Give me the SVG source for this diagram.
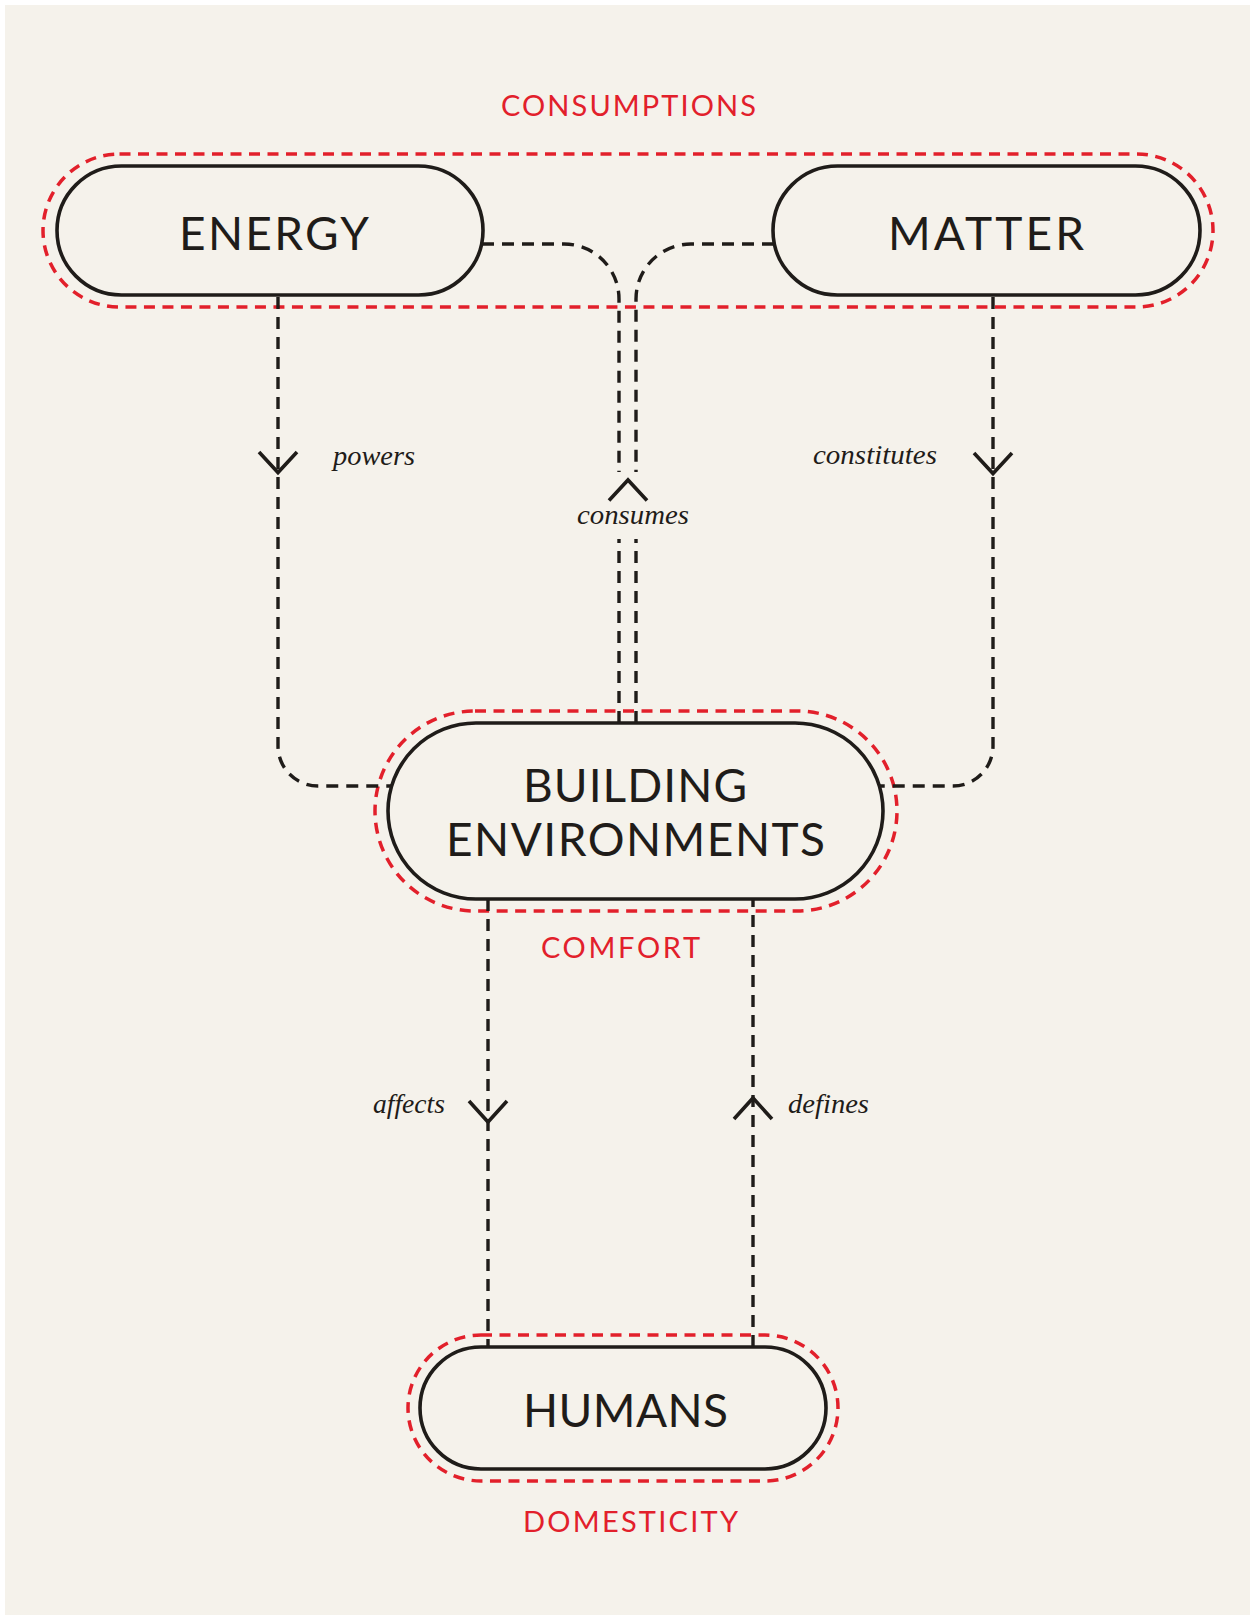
<svg xmlns="http://www.w3.org/2000/svg" width="1250" height="1615" viewBox="0 0 1250 1615">
  <defs>
    <style>
      .pill { fill: #f5f2eb; stroke: #1f1c19; stroke-width: 3.6; }
      .group { fill: none; stroke: #e2202b; stroke-width: 3.5; stroke-dasharray: 11 7.5; }
      .link { fill: none; stroke: #1f1c19; stroke-width: 3.4; stroke-dasharray: 12 8; }
      .chev { fill: none; stroke: #1f1c19; stroke-width: 3.6; stroke-linejoin: miter; stroke-linecap: butt; }
      .name { font-family: Lato, "Open Sans", sans-serif; font-size: 46px; fill: #1f1c19; }
      .set { font-family: Lato, "Open Sans", sans-serif; font-size: 29px; fill: #e2202b; }
      .verb { font-family: "Liberation Serif", serif; font-style: italic; font-size: 28px; fill: #1f1c19; }
    </style>
  </defs>

  <!-- paper -->
  <rect x="0" y="0" width="1250" height="1615" fill="#ffffff"/>
  <rect x="5" y="5" width="1245" height="1610" fill="#f5f2eb"/>

  <!-- dashed red groupings -->
  <g id="consumptions">
    <rect class="group" x="43" y="154" width="1170" height="153" rx="76.5"/>
    <text class="set" x="501" y="116" textLength="255" lengthAdjust="spacing">CONSUMPTIONS</text>
  </g>
  <g id="comfort">
    <rect class="group" x="375" y="711" width="522" height="200" rx="100"/>
    <text class="set" x="541" y="958" textLength="159" lengthAdjust="spacing">COMFORT</text>
  </g>
  <g id="domesticity">
    <rect class="group" x="408" y="1335" width="430" height="146" rx="73"/>
    <text class="set" x="523" y="1532" textLength="215" lengthAdjust="spacing">DOMESTICITY</text>
  </g>

  <!-- connectors -->
  <g id="connectors">
    <!-- energy powers building -->
    <path class="link" d="M278,297 V746 A40,40 0 0 0 318,786 H392"/>
    <polyline class="chev" points="259,452 278,472.5 297,452"/>
    <text class="verb" x="333" y="465" textLength="82" lengthAdjust="spacingAndGlyphs">powers</text>

    <!-- matter constitutes building -->
    <path class="link" d="M993,297 V746 A40,40 0 0 1 953,786 H879"/>
    <polyline class="chev" points="974,453 993,473.5 1012,453"/>
    <text class="verb" x="813" y="464" textLength="124" lengthAdjust="spacingAndGlyphs">constitutes</text>

    <!-- building consumes energy and matter -->
    <path class="link" d="M482,244 H564 A55,55 0 0 1 619,299 V472"/>
    <path class="link" d="M774,244 H691 A55,55 0 0 0 636,299 V472"/>
    <path class="link" d="M619,723 V539"/>
    <path class="link" d="M636,723 V539"/>
    <polyline class="chev" points="609,500.5 628,480 647,500.5"/>
    <text class="verb" x="577" y="524" textLength="112" lengthAdjust="spacingAndGlyphs">consumes</text>

    <!-- building affects humans -->
    <path class="link" d="M488,899 V1347"/>
    <polyline class="chev" points="469,1101 488,1122 507,1101"/>
    <text class="verb" x="373" y="1113" textLength="72" lengthAdjust="spacingAndGlyphs">affects</text>

    <!-- humans define building -->
    <path class="link" d="M753,1347 V899"/>
    <polyline class="chev" points="734,1119 753,1098 772,1119"/>
    <text class="verb" x="788" y="1113" textLength="81" lengthAdjust="spacingAndGlyphs">defines</text>
  </g>

  <!-- nodes -->
  <g id="energy">
    <rect class="pill" x="57" y="166" width="426" height="129" rx="64.5"/>
    <text class="name" x="179" y="250" textLength="190" lengthAdjust="spacing">ENERGY</text>
  </g>
  <g id="matter">
    <rect class="pill" x="773" y="166" width="427" height="129" rx="64.5"/>
    <text class="name" x="888" y="250" textLength="196" lengthAdjust="spacing">MATTER</text>
  </g>
  <g id="building-environments">
    <rect class="pill" x="388" y="723" width="495" height="176" rx="88"/>
    <text class="name" x="523" y="802" textLength="224" lengthAdjust="spacing">BUILDING</text>
    <text class="name" x="446" y="856" textLength="379" lengthAdjust="spacing">ENVIRONMENTS</text>
  </g>
  <g id="humans">
    <rect class="pill" x="420" y="1347" width="406" height="122" rx="61"/>
    <text class="name" x="523" y="1427" textLength="205" lengthAdjust="spacing">HUMANS</text>
  </g>
</svg>
